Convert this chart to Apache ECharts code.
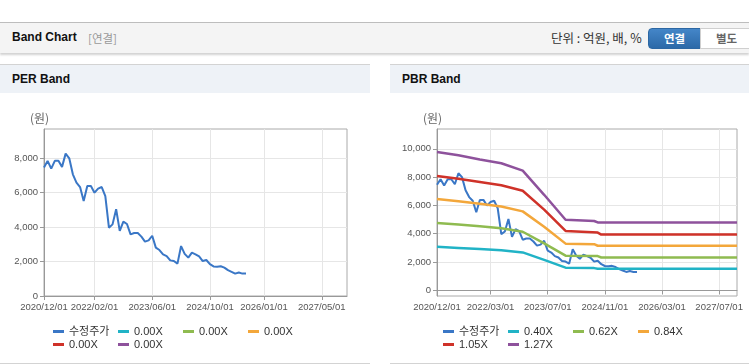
<!DOCTYPE html>
<html>
<head>
<meta charset="utf-8">
<script src="https://cdn.jsdelivr.net/npm/echarts@6/dist/echarts.min.js"></script>
<style>
  html, body { margin: 0; padding: 0; background: #fff; }
  body { width: 749px; height: 364px; position: relative; overflow: hidden;
         font-family: "Liberation Sans", "Noto Sans CJK KR", sans-serif; }
  .top { position: absolute; left: 0; top: 22px; width: 749px; height: 30px;
         background: #f4f4f4; border-top: 1px solid #bdbdbd;
         box-shadow: 0 2px 2px rgba(0,0,0,0.18); }
  .top .ttl { position: absolute; left: 12px; top: 7px; font-size: 12px; font-weight: bold; color: #111; }
  .top .sub { position: absolute; left: 88px; top: 7px; font-size: 11.5px; color: #999;
              font-family: "Noto Sans CJK KR", sans-serif; line-height: 16px; }
  .top .unit { position: absolute; left: 551px; top: 6px; font-size: 12.5px; color: #333;
               font-family: "Noto Sans CJK KR", sans-serif; line-height: 18px; }
  .btn { position: absolute; top: 5px; height: 19px; width: 51px; font-size: 11.5px; font-weight: bold;
         text-align: center; line-height: 19px; font-family: "Noto Sans CJK KR", sans-serif; }
  .on { left: 648px; background: linear-gradient(#4486c8, #2c69a8); color: #fff;
        border: 1px solid #2c67a3; border-radius: 4px 0 0 4px; }
  .off { left: 700px; background: #fff; color: #666; border: 1px solid #cfcfcf; }
  .panel { position: absolute; top: 64px; height: 298px; border-top: 1px solid #d3d3d3;
           border-bottom: 1px solid #d3d3d3; background: #fff; }
  .panel .hd { height: 28px; background: #eef2f7; font-size: 12px; font-weight: bold;
               color: #111; padding-left: 12px; line-height: 29px; }
  .chart { position: absolute; left: 0; top: 29px; height: 269px; }
</style>
</head>
<body>
<div class="top">
  <span class="ttl">Band Chart</span>
  <span class="sub">[연결]</span>
  <span class="unit">단위 : 억원, 배, %</span>
  <div class="btn on">연결</div>
  <div class="btn off">별도</div>
</div>
<div class="panel" style="left:0;width:370px;">
  <div class="hd">PER Band</div>
  <div class="chart" id="per" style="width:370px;"></div>
</div>
<div class="panel" style="left:390px;width:359px;">
  <div class="hd">PBR Band</div>
  <div class="chart" id="pbr" style="width:359px;"></div>
</div>
<script>
// monthly categories 2020/12 .. 2027/12
var months = [];
for (var y = 2020, m = 12; y < 2028; ) {
    months.push(y + '/' + (m < 10 ? '0' + m : m) + '/01');
    m++;
    if (m > 12) { m = 1; y++; }
}
months = months.slice(0, 85);

var perTicks = ['2020/12/01', '2022/02/01', '2023/06/01', '2024/10/01', '2026/01/01', '2027/05/01'];
var pbrTicks = ['2020/12/01', '2022/03/01', '2023/07/01', '2024/11/01', '2026/03/01', '2027/07/01'];

// 수정주가 (monthly, from 2020/12)
var price = [7460, 7850, 7400, 7850, 7850, 7500, 8270, 8000, 7070, 6590, 6330, 5520,
             6390, 6390, 6000, 6240, 6330, 5800, 3970, 4160, 5040, 3780, 4320, 4180,
             3580, 3660, 3660, 3450, 3160, 3230, 3500, 2810, 2670, 2420, 2320, 2070,
             2030, 1880, 2900, 2450, 2230, 2520, 2420, 2300, 2030, 2090, 1850, 1720,
             1700, 1730, 1650, 1500, 1400, 1300, 1360, 1300, 1300];

var perNames = ['수정주가', '0.00X', '0.00X ', '0.00X  ', '0.00X   ', '0.00X    '];
var pbrNames = ['수정주가', '0.40X', '0.62X', '0.84X', '1.05X', '1.27X'];

var band040 = [['2020/12/01', 3080], ['2021/06/01', 3000], ['2021/12/01', 2920], ['2022/06/01', 2830],
               ['2022/12/01', 2680], ['2023/06/01', 2150], ['2023/12/01', 1600], ['2024/08/01', 1570],
               ['2024/09/01', 1530], ['2027/12/01', 1530]];
var band062 = [['2020/12/01', 4760], ['2021/06/01', 4650], ['2021/12/01', 4520], ['2022/06/01', 4380],
               ['2022/12/01', 4140], ['2023/06/01', 3320], ['2023/12/01', 2450], ['2024/09/01', 2420],
               ['2024/10/01', 2320], ['2027/12/01', 2320]];
var band084 = [['2020/12/01', 6450], ['2021/06/01', 6300], ['2021/12/01', 6120], ['2022/06/01', 5930],
               ['2022/12/01', 5580], ['2023/06/01', 4500], ['2023/12/01', 3300], ['2024/08/01', 3260],
               ['2024/09/01', 3150], ['2027/12/01', 3150]];
var band105 = [['2020/12/01', 8080], ['2021/06/01', 7880], ['2021/12/01', 7650], ['2022/06/01', 7420],
               ['2022/12/01', 7040], ['2023/06/01', 5700], ['2023/12/01', 4200], ['2024/09/01', 4080],
               ['2024/10/01', 3940], ['2027/12/01', 3940]];
var band127 = [['2020/12/01', 9780], ['2021/06/01', 9540], ['2021/12/01', 9250], ['2022/06/01', 8980],
               ['2022/12/01', 8460], ['2023/06/01', 6750], ['2023/12/01', 4990], ['2024/08/01', 4900],
               ['2024/09/01', 4800], ['2027/12/01', 4800]];

var yTicksPer = [0, 2000, 4000, 6000, 8000];
var yTicksPbr = [0, 2000, 4000, 6000, 8000, 10000];

var colors = ['#3a77c6', '#21b3c6', '#8fbb50', '#f3a73b', '#cf3229', '#8e529c'];
var axisFont = 'Liberation Sans';

function legendRow(names, top) {
    return {
        data: names, left: 53, top: top, padding: 0, orient: 'horizontal',
        icon: 'rect', itemWidth: 11, itemHeight: 3, itemGap: 5,
        textStyle: { fontSize: 11, color: '#333', width: 44, lineHeight: 13,
                     fontFamily: 'Liberation Sans, Noto Sans CJK KR' }
    };
}

function makeOption(names, ticks, yTicks, yMin, yMax, gridLeft, plotWidth, bands) {
    var showTick = function (idx, val) { return ticks.indexOf(val) >= 0; };
    var series = [{
        name: names[0], type: 'line', data: price, symbol: 'none',
        lineStyle: { width: 2, color: colors[0] }, itemStyle: { color: colors[0] }
    }];
    for (var k = 0; k < 5; k++) {
        series.push({
            name: names[k + 1], type: 'line', data: bands[k], symbol: 'none',
            lineStyle: { width: 2.5, color: colors[k + 1] }, itemStyle: { color: colors[k + 1] }
        });
    }
    return {
        animation: false,
        color: colors,
        grid: { left: gridLeft, top: 35, width: plotWidth, height: 167,
                show: true, borderColor: '#aaa', borderWidth: 1 },
        graphic: [{ type: 'text', left: gridLeft - 14, top: 18,
                    style: { text: '(원)', fill: '#666', fontSize: 12,
                             fontFamily: 'Noto Sans CJK KR' } }],
        legend: [legendRow(names.slice(0, 4), 231), legendRow(names.slice(4), 244)],
        xAxis: {
            type: 'category', data: months, boundaryGap: false,
            axisLine: { lineStyle: { color: '#999' } },
            axisTick: { interval: showTick, length: 4, lineStyle: { color: '#999' } },
            axisLabel: { interval: showTick, color: '#555', fontSize: 9.5, margin: 6,
                         hideOverlap: false, showMinLabel: true, fontFamily: axisFont },
            splitLine: { show: true, interval: showTick, lineStyle: { color: '#e6e6e6' } }
        },
        yAxis: {
            type: 'value', min: yMin, max: yMax,
            axisLine: { show: true, lineStyle: { color: '#999' } },
            axisTick: { show: true, length: 4, customValues: yTicks, lineStyle: { color: '#999' } },
            axisLabel: { customValues: yTicks, color: '#555', fontSize: 9.5, margin: 6,
                         fontFamily: axisFont },
            splitLine: { show: true, lineStyle: { color: '#e6e6e6' } }
        },
        series: series
    };
}

var perChart = echarts.init(document.getElementById('per'));
perChart.setOption(makeOption(perNames, perTicks, yTicksPer, 0, 9700, 44, 303, [[], [], [], [], []]));

var pbrChart = echarts.init(document.getElementById('pbr'));
pbrChart.setOption(makeOption(pbrNames, pbrTicks, yTicksPbr, -400, 11400, 47, 300,
    [band040, band062, band084, band105, band127]));
</script>
</body>
</html>
